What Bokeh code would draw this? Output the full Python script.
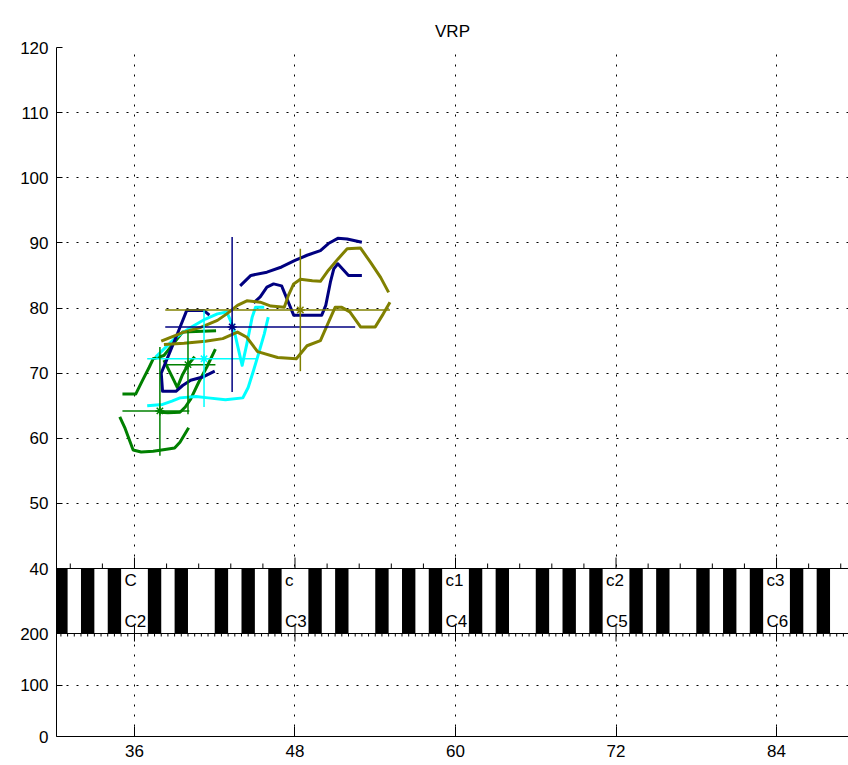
import math
from bokeh.plotting import figure
from bokeh.models import Range1d, FixedTicker, Span
from bokeh.core.properties import value
from bokeh.embed import file_html
from bokeh.resources import INLINE

# ---------------- data ----------------
x_ticks = [36, 48, 60, 72, 84]
y_ticks_top = [40, 50, 60, 70, 80, 90, 100, 110, 120]
y_ticks_bottom = [0, 100, 200]
octave_notes = [36, 48, 60, 72, 84]
helmholtz_labels = ["C", "c", "c1", "c2", "c3"]
spn_labels = ["C2", "C3", "C4", "C5", "C6"]
black_keys = [30, 32, 34, 37, 39, 42, 44, 46, 49, 51, 54, 56, 58, 61, 63, 66,
              68, 70, 73, 75, 78, 80, 82, 85, 87, 90]

# green profiles
green_bottom_x = [34.9, 35.3, 35.9, 36.5, 37.4, 38.4, 39.0, 39.4, 40.05]
green_bottom_y = [63.3, 61.5, 58.2, 57.9, 58.0, 58.3, 58.5, 59.4, 61.6]
green_upper_x = [35.1, 36.1, 36.6, 37.1, 37.4, 38.2, 38.7, 39.6, 42.1]
green_upper_y = [66.8, 66.8, 68.9, 70.9, 72.2, 72.7, 74.0, 76.3, 76.5]
green_mid_x = [37.9, 38.5, 39.4, 39.8, 40.2, 40.8, 41.4, 42.05]
green_mid_y = [64.0, 63.9, 64.0, 64.8, 66.0, 68.6, 70.9, 73.7]
green_zig_x = [38.2, 38.8, 39.2, 39.6, 40.0, 40.5]
green_zig_y = [72.0, 69.5, 67.8, 69.8, 71.3, 72.5]

# cyan profiles
cyan_low_x = [36.95, 38.1, 38.8, 39.4, 40.6, 41.5, 42.8, 44.1, 44.5, 44.9, 45.25, 45.7, 46.0]
cyan_low_y = [65.0, 65.2, 65.7, 66.2, 66.4, 66.2, 65.9, 66.2, 67.8, 70.4, 72.8, 76.0, 78.6]
cyan_up_x = [37.6, 38.1, 39.1, 40.2, 41.3, 42.2, 42.9, 43.4, 43.9, 44.05, 44.4, 44.8, 45.05, 45.7]
cyan_up_y = [72.5, 73.5, 75.5, 77.0, 78.3, 79.1, 79.4, 77.0, 72.5, 71.2, 74.5, 78.6, 80.1, 80.1]

# navy profiles
navy_loop_x = [42.0, 41.1, 40.2, 39.6, 39.1, 38.1, 38.0, 38.7, 39.3, 39.9, 41.2, 41.6]
navy_loop_y = [70.3, 69.4, 68.9, 68.1, 67.2, 67.2, 70.0, 73.5, 76.5, 79.6, 79.6, 78.9]
navy_mid_x = [44.9, 45.4, 45.9, 46.4, 47.0, 47.4, 47.9, 50.0, 50.3, 50.65, 50.9, 51.2, 52.0, 53.0]
navy_mid_y = [80.8, 81.7, 83.2, 83.7, 83.4, 81.4, 78.9, 78.9, 80.4, 84.0, 86.0, 86.8, 85.0, 85.0]
navy_top_x = [43.9, 44.7, 45.9, 47.0, 48.0, 48.9, 49.9, 50.5, 51.2, 51.9, 53.0]
navy_top_y = [83.4, 85.0, 85.5, 86.3, 87.3, 88.1, 88.8, 89.9, 90.7, 90.6, 90.1]

# olive profiles
olive_up_x = [38.0, 38.7, 39.7, 40.9, 42.2, 42.9, 43.7, 44.4, 45.4, 46.2, 47.2, 47.5, 47.9,
              48.4, 49.3, 49.9, 50.5, 51.2, 51.9, 52.9, 53.65, 54.4, 55.0]
olive_up_y = [74.9, 75.5, 76.3, 77.0, 78.1, 79.1, 80.4, 81.1, 80.9, 80.3, 80.1, 81.9, 83.7,
              84.4, 84.2, 84.1, 85.8, 87.5, 89.1, 89.2, 87.0, 84.7, 82.4]
olive_low_x = [38.2, 39.7, 41.3, 42.6, 43.7, 44.4, 45.2, 46.7, 48.1, 48.9, 49.9, 50.5, 51.0,
               51.5, 52.1, 52.9, 54.0, 54.6, 55.1]
olive_low_y = [74.4, 74.6, 74.9, 75.3, 76.3, 75.5, 73.3, 72.4, 72.2, 74.2, 75.0, 77.8, 80.1,
               80.1, 79.4, 77.1, 77.1, 79.1, 80.9]

# centre marks (mean with ranges)
cross_color = ["#008000", "#008000", "#00FFFF", "#000080", "#808000"]
cross_x = [37.9, 40.0, 41.2, 43.3, 48.4]
cross_y = [64.2, 71.3, 72.2, 77.1, 79.7]
cross_x_lo = [35.1, 38.4, 36.95, 38.3, 38.3]
cross_x_hi = [40.1, 42.05, 45.2, 52.5, 55.1]
cross_y_lo = [57.3, 63.7, 64.8, 67.1, 70.3]
cross_y_hi = [74.0, 76.5, 79.6, 90.9, 89.1]

# ---------------- layout geometry ----------------
FIG_W, FIG_H = 848, 765
B_LEFT, B_TOP, B_BOTTOM = 56, 47, 29
TOP_PX, KB_PX, BOT_PX = 521, 65, 103
unit_px = TOP_PX / (y_ticks_top[-1] - y_ticks_top[0])
y_start = y_ticks_top[0] - (KB_PX + BOT_PX) / unit_px
bot_scale = (BOT_PX / unit_px) / (y_ticks_bottom[-1] - y_ticks_bottom[0])


def bottom_to_main(v):
    return y_start + v * bot_scale


kb_start = -BOT_PX / KB_PX
kb_end = 1 + TOP_PX / KB_PX

x_lo, x_hi = 30.17, 89.38
FONT = "Liberation Sans"

p = figure(width=FIG_W, height=FIG_H, x_range=Range1d(x_lo, x_hi),
           y_range=Range1d(y_start, y_ticks_top[-1]),
           output_backend="svg", toolbar_location=None, title="VRP",
           min_border_left=B_LEFT, min_border_right=0, min_border_top=B_TOP,
           min_border_bottom=B_BOTTOM)
p.extra_y_ranges = {"kb": Range1d(kb_start, kb_end)}
p.outline_line_color = None
p.background_fill_color = "white"
p.border_fill_color = "white"

p.title.text_font = FONT
p.title.text_font_size = "17px"
p.title.text_font_style = "normal"
p.title.text_color = "black"
p.title.align = "center"
p.title.standoff = 13

bottom_main = [bottom_to_main(v) for v in y_ticks_bottom]
all_y = bottom_main + y_ticks_top
p.yaxis.ticker = FixedTicker(ticks=all_y, minor_ticks=[])
p.yaxis.major_label_overrides = {bm: str(v) for bm, v in zip(bottom_main, y_ticks_bottom)}
p.xaxis.ticker = FixedTicker(ticks=x_ticks, minor_ticks=[])

for ax in (p.xaxis[0], p.yaxis[0]):
    ax.major_label_text_font = FONT
    ax.major_label_text_font_size = "17px"
    ax.major_label_text_color = "black"
    ax.axis_line_color = "black"
    ax.major_tick_line_color = "black"
    ax.major_tick_out = 0
    ax.minor_tick_out = 0
    ax.minor_tick_in = 0
p.yaxis.major_tick_in = 6
p.yaxis.major_label_standoff = 8
p.xaxis.major_tick_in = 10
p.xaxis.major_label_standoff = 8

p.xgrid.ticker = FixedTicker(ticks=x_ticks, minor_ticks=[])
p.ygrid.ticker = FixedTicker(ticks=all_y, minor_ticks=[])
for g in (p.xgrid[0], p.ygrid[0]):
    g.grid_line_color = "black"
    g.grid_line_dash = "2 8"
    g.grid_line_width = 1

# ---------------- keyboard strip ----------------
p.quad(left=[x_lo], right=[x_hi], bottom=[0], top=[1], fill_color="white",
       line_color=None, y_range_name="kb")
p.quad(left=black_keys, right=[k + 1 for k in black_keys], bottom=0, top=1,
       fill_color="black", line_color=None, y_range_name="kb")

top_minor = [x_ticks[0] + 2.4 * k for k in range(-3, 25)]
top_minor = [t for t in top_minor if x_lo < t < x_hi and t not in x_ticks]
bot_minor = [x_ticks[0] + 0.5 * k for k in range(-12, 108)]
bot_minor = [t for t in bot_minor if x_lo < t < x_hi and t not in x_ticks]

p.ray(x=x_ticks, y=1, length=11, angle=math.pi / 2, length_units="screen",
      line_color="black", line_width=1, y_range_name="kb")
p.ray(x=top_minor, y=1, length=5, angle=math.pi / 2, length_units="screen",
      line_color="black", line_width=1, y_range_name="kb")
p.ray(x=x_ticks, y=0, length=8, angle=-math.pi / 2, length_units="screen",
      line_color="black", line_width=1, y_range_name="kb")
p.ray(x=x_ticks, y=0, length=8, angle=math.pi / 2, length_units="screen",
      line_color="black", line_width=1, y_range_name="kb")
p.ray(x=bot_minor, y=0, length=3, angle=-math.pi / 2, length_units="screen",
      line_color="black", line_width=1, y_range_name="kb")

p.text(x=octave_notes, y=1, text=helmholtz_labels, x_offset=-10, y_offset=2,
       text_align="left", text_baseline="top", text_font=value(FONT),
       text_font_size="17px", text_color="black", y_range_name="kb")
p.text(x=octave_notes, y=0, text=spn_labels, x_offset=-10, y_offset=-3,
       text_align="left", text_baseline="bottom", text_font=value(FONT),
       text_font_size="17px", text_color="black", y_range_name="kb")

p.add_layout(Span(location=1, dimension="width", y_range_name="kb",
                  line_color="black", line_width=1))
p.add_layout(Span(location=0, dimension="width", y_range_name="kb",
                  line_color="black", line_width=1))

# ---------------- profiles ----------------
curves = [
    (green_bottom_x, green_bottom_y, "#008000"),
    (green_upper_x, green_upper_y, "#008000"),
    (green_mid_x, green_mid_y, "#008000"),
    (green_zig_x, green_zig_y, "#008000"),
    (cyan_low_x, cyan_low_y, "#00FFFF"),
    (cyan_up_x, cyan_up_y, "#00FFFF"),
    (navy_loop_x, navy_loop_y, "#000080"),
    (navy_mid_x, navy_mid_y, "#000080"),
    (navy_top_x, navy_top_y, "#000080"),
    (olive_up_x, olive_up_y, "#808000"),
    (olive_low_x, olive_low_y, "#808000"),
]
for xs, ys, c in curves:
    p.line(xs, ys, line_color=c, line_width=3, line_join="round")

p.segment(x0=cross_x_lo, y0=cross_y, x1=cross_x_hi, y1=cross_y,
          line_color=cross_color, line_width=1.5)
p.segment(x0=cross_x, y0=cross_y_lo, x1=cross_x, y1=cross_y_hi,
          line_color=cross_color, line_width=1.5)
p.scatter(x=cross_x, y=cross_y, marker="asterisk", size=9,
          line_color=cross_color, line_width=1.5)

open("out.html", "w").write(file_html(p, INLINE))
